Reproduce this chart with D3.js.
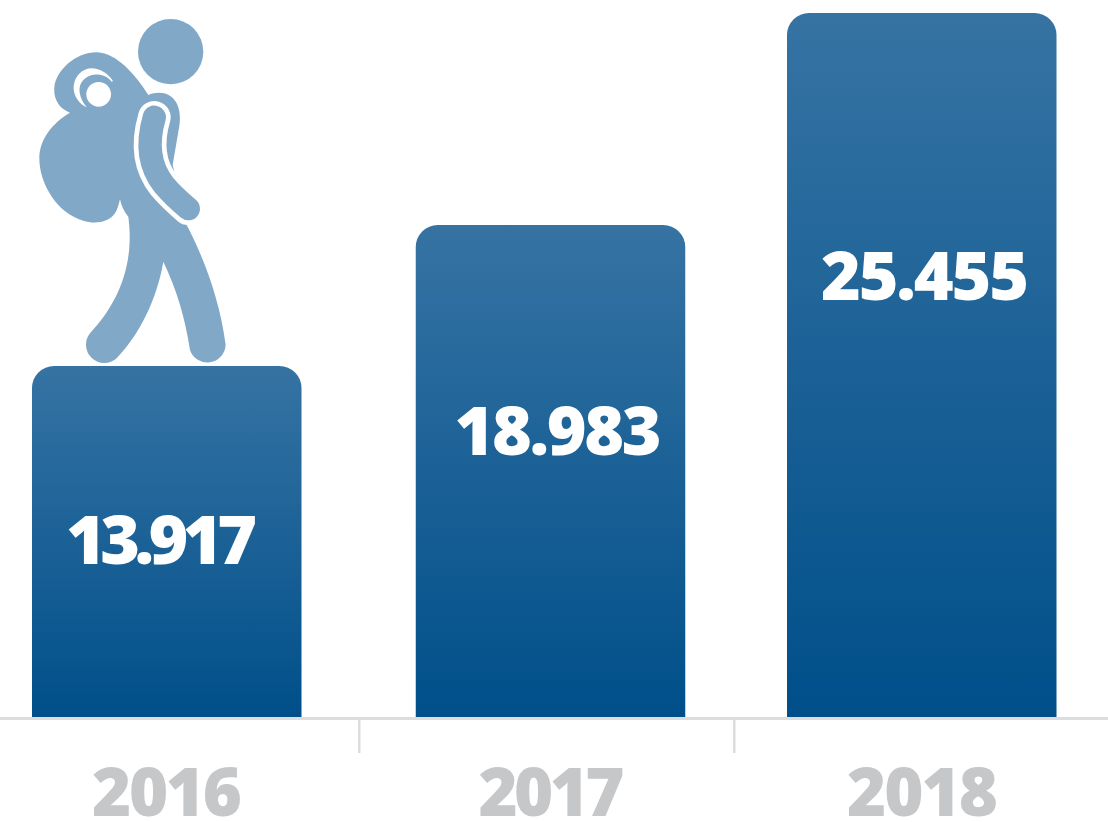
<!DOCTYPE html>
<html>
<head lang="en">
  <meta charset="UTF-8">
  <title>2016 - 2018</title>
  <script src="https://cdn.jsdelivr.net/npm/d3@7"></script>
</head>
<style>
  html, body { margin: 0; padding: 0; background: #fff; }
  svg { display: block; }
  text { font-family: "Noto Sans", sans-serif; font-weight: 900; }
  .year text { fill: #c6c7c9; font-size: 67px; font-family: "Noto Sans", sans-serif; font-weight: 900; }
  .value { fill: #fff; font-size: 68px; text-anchor: middle; }
</style>
<body>
<svg id="chart" width="1108" height="822"></svg>

<script>
  var years     = ['2016', '2017', '2018'];
  var values    = [13917, 18983, 25455];
  var labels    = ['13.917', '18.983', '25.455'];

  var width     = 1108;
  var baseline  = 717;
  var barWidth  = 269.5;
  var corner    = 22;

  var svg = d3.select('#chart');

  // bars are not spaced evenly in the picture and not proportional either,
  // so both scales are pinned to what was measured
  var x = d3.scaleOrdinal().domain(years).range([166.75, 550.5, 921.75]);
  var y = d3.scaleLinear().domain([0].concat(values)).range([baseline, 366, 225, 13]);

  var labelX = d3.scaleOrdinal().domain(years).range([161.5, 558, 925]);
  var labelY = d3.scaleLinear().domain(values).range([564, 455, 300]);

  // the original font is narrower on the 1s, so squeeze each text to its measured width
  var labelWidth = d3.scaleOrdinal().domain(years).range([191, 207, 208]);
  var yearWidth  = d3.scaleOrdinal().domain(years).range([150, 146, 151]);

  var grad = svg.append('defs').append('linearGradient')
    .attr('id', 'barFill')
    .attr('x1', 0).attr('x2', 0).attr('y1', 0).attr('y2', 1);
  grad.append('stop').attr('offset', '0%').attr('stop-color', '#3673a3');
  grad.append('stop').attr('offset', '100%').attr('stop-color', '#004f8a');

  function barPath(d, i) {
    var left = x(years[i]) - barWidth / 2;
    var right = left + barWidth;
    var top = y(d);
    var p = d3.path();
    p.moveTo(left, baseline);
    p.lineTo(left, top + corner);
    p.arcTo(left, top, left + corner, top, corner);
    p.lineTo(right - corner, top);
    p.arcTo(right, top, right, top + corner, corner);
    p.lineTo(right, baseline);
    p.closePath();
    return p.toString();
  }

  svg.selectAll('path.bar')
    .data(values)
    .enter()
      .append('path')
      .attr('class', 'bar')
      .attr('d', barPath)
      .attr('fill', 'url(#barFill)');

  svg.selectAll('text.value')
    .data(labels)
    .enter()
      .append('text')
      .attr('class', 'value')
      .attr('x', function (d, i) { return labelX(years[i]); })
      .attr('y', function (d, i) { return labelY(values[i]); })
      .attr('textLength', function (d, i) { return labelWidth(years[i]); })
      .text(function (d) { return d; });

  // axis
  var axisScale = d3.scaleOrdinal().domain(years).range([166.5, 551, 922]);
  var axis = d3.axisBottom(axisScale).tickSize(0).tickPadding(0);
  var yearAxis = svg.append('g')
    .attr('class', 'year')
    .attr('transform', 'translate(0,' + 816 + ')')
    .call(axis);
  yearAxis.select('.domain').remove();
  yearAxis.selectAll('text')
    .attr('dy', 0).attr('y', 0)
    .attr('textLength', function (d) { return yearWidth(d); });

  svg.append('rect')
    .attr('x', 0).attr('y', baseline).attr('width', width).attr('height', 3)
    .attr('fill', '#dcddde');

  svg.selectAll('rect.sep')
    .data([359, 734])
    .enter()
      .append('rect')
      .attr('class', 'sep')
      .attr('x', function (d) { return d - 1; })
      .attr('y', baseline + 3)
      .attr('width', 2.5)
      .attr('height', 33)
      .attr('fill', '#dcddde');

  // hiker
  var hiker = svg.append('g')
    .attr('transform', 'translate(20,0) scale(0.3333)')
    .attr('fill', '#82a8c8');

  hiker.append('circle').attr('cx', 452).attr('cy', 155).attr('r', 98);

  hiker.append('path').attr('d',
    'M150,338 C118,325 100,298 103,262 C108,210 170,155 232,157 C290,160 345,222 385,285 ' +
    'C405,276 435,275 452,289 C475,305 484,340 478,378 L458,495 L500,675 ' +
    'C550,770 600,900 617,1035 A55,55 0 0 1 510,1050 C495,950 470,870 430,785 ' +
    'C410,900 360,1000 290,1075 A55,55 0 0 1 210,1000 C290,915 345,800 325,650 ' +
    'C312,635 304,618 300,598 C296,615 292,630 285,640 C265,670 220,672 190,662 ' +
    'C110,640 58,550 58,475 C58,420 95,370 150,338 Z');

  var armLine = 'M403,352 C380,430 388,500 432,555 C455,582 480,605 505,626';
  hiker.append('path').attr('d', armLine)
    .attr('fill', 'none').attr('stroke', '#fff').attr('stroke-width', 98).attr('stroke-linecap', 'round');
  hiker.append('path').attr('d', armLine)
    .attr('fill', 'none').attr('stroke', '#82a8c8').attr('stroke-width', 70).attr('stroke-linecap', 'round');

  hiker.append('circle').attr('cx', 236).attr('cy', 283).attr('r', 37).attr('fill', '#fff');
  hiker.append('path').attr('fill', '#fff').attr('d',
    'M279,243 C255,205 205,190 177,222 C148,255 160,302 200,322 C178,295 170,260 190,240 C215,215 255,220 275,245 Z');
</script>
</body>
</html>
